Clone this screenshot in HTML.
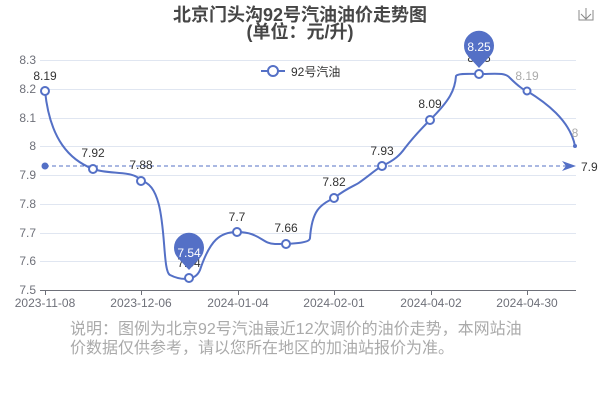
<!DOCTYPE html><html><head><meta charset="utf-8"><style>body{margin:0;background:#fff}svg{display:block}</style></head><body>
<svg width="600" height="400" xmlns="http://www.w3.org/2000/svg" font-family="Liberation Sans, Noto Sans CJK SC, sans-serif">
<text x="300" y="21" text-anchor="middle" font-size="18" font-weight="bold" fill="#464646">北京门头沟92号汽油油价走势图</text>
<text x="300" y="38" text-anchor="middle" font-size="18" font-weight="bold" fill="#464646">(单位：元/升)</text>
<g stroke="#888" fill="none" stroke-width="1"><path d="M579 10v10h14v-10M586 8v11M581 14l5 5 5-5"/></g>
<g stroke="#e0e6f1" stroke-width="1">
<line x1="40" x2="576" y1="60.5" y2="60.5"/><line x1="40" x2="576" y1="89.5" y2="89.5"/><line x1="40" x2="576" y1="118.5" y2="118.5"/><line x1="40" x2="576" y1="146.5" y2="146.5"/><line x1="40" x2="576" y1="175.5" y2="175.5"/><line x1="40" x2="576" y1="204.5" y2="204.5"/><line x1="40" x2="576" y1="233.5" y2="233.5"/><line x1="40" x2="576" y1="261.5" y2="261.5"/></g>
<line x1="40" x2="576" y1="290.5" y2="290.5" stroke="#6e7079"/>
<g stroke="#6e7079"><line x1="45.5" x2="45.5" y1="290" y2="295"/><line x1="141.5" x2="141.5" y1="290" y2="295"/><line x1="238.5" x2="238.5" y1="290" y2="295"/><line x1="334.5" x2="334.5" y1="290" y2="295"/><line x1="431.5" x2="431.5" y1="290" y2="295"/><line x1="527.5" x2="527.5" y1="290" y2="295"/></g>
<g font-size="12" fill="#6e7079" text-anchor="end"><text x="36" y="64">8.3</text><text x="36" y="93">8.2</text><text x="36" y="122">8.1</text><text x="36" y="150">8</text><text x="36" y="179">7.9</text><text x="36" y="208">7.8</text><text x="36" y="237">7.7</text><text x="36" y="265">7.6</text><text x="36" y="294">7.5</text></g>
<g font-size="12" fill="#6e7079" text-anchor="middle"><text x="45" y="307">2023-11-08</text><text x="141" y="307">2023-12-06</text><text x="238" y="307">2024-01-04</text><text x="334" y="307">2024-02-01</text><text x="431" y="307">2024-04-02</text><text x="527" y="307">2024-04-30</text></g>
<line x1="45" y1="166" x2="568" y2="166" stroke="#5470c6" stroke-dasharray="4,3"/>
<path d="M562 161l14 5-14 5 4-5z" fill="#5470c6"/><circle cx="45" cy="166" r="3.5" fill="#5470c6"/>
<text x="581" y="171" font-size="12" fill="#333">7.9</text>
<path d="M45 91C50 140 70 160 93 169C110 175 135 170 141 181C170 185 160 270 170 275C180 280 195 282 200 270C210 240 220 232 237 232C260 232 262 244 275 244C300 244 310 242 310 238C312 210 320 205 334 198C350 186 355 186 360 182C370 175 375 170 382 166C395 160 400 155 405 148C415 135 425 125 430 120C450 100 455 90 456 76C458 73 470 74 479 74C495 74 505 72 510 78C518 86 525 91 527 91C545 102 570 120 575 146" fill="none" stroke="#5470c6" stroke-width="2"/>
<g fill="#fff" stroke="#5470c6" stroke-width="2"><circle cx="45" cy="91" r="4"/><circle cx="93" cy="169" r="4"/><circle cx="141" cy="181" r="4"/><circle cx="189" cy="278" r="4"/><circle cx="237" cy="232" r="4"/><circle cx="286" cy="244" r="4"/><circle cx="334" cy="198" r="4"/><circle cx="382" cy="166" r="4"/><circle cx="430" cy="120" r="4"/><circle cx="479" cy="74" r="4"/><circle cx="527" cy="91" r="3.5"/></g>
<circle cx="575" cy="146" r="2" fill="#5470c6"/>
<g font-size="12" fill="#333" text-anchor="middle"><text x="45" y="80">8.19</text><text x="93" y="157">7.92</text><text x="141" y="169">7.88</text><text x="237" y="221">7.7</text><text x="286" y="232">7.66</text><text x="334" y="186">7.82</text><text x="382" y="155">7.93</text><text x="430" y="108">8.09</text><text x="189" y="267">7.54</text><text x="479" y="62">8.25</text></g>
<g font-size="12" fill="#aaa" text-anchor="middle"><text x="527" y="80">8.19</text><text x="575" y="137">8</text></g>
<path d="M189 270L178 258A15 15 0 1 1 200 258Z" fill="#5470c6"/>
<text x="189" y="257" font-size="12" fill="#fff" text-anchor="middle">7.54</text>
<path d="M479 68L468 56A15 15 0 1 1 490 56Z" fill="#5470c6"/>
<text x="479" y="51" font-size="12" fill="#fff" text-anchor="middle">8.25</text>
<line x1="261" y1="71" x2="285" y2="71" stroke="#5470c6" stroke-width="2"/><circle cx="273" cy="71" r="5" fill="#fff" stroke="#5470c6" stroke-width="2"/>
<text x="291" y="76" font-size="12" fill="#333">92号汽油</text>
<text x="70" y="334" font-size="16" fill="#aaa">说明：图例为北京92号汽油最近12次调价的油价走势，本网站油</text>
<text x="70" y="353" font-size="16" fill="#aaa">价数据仅供参考，请以您所在地区的加油站报价为准。</text>
</svg></body></html>
